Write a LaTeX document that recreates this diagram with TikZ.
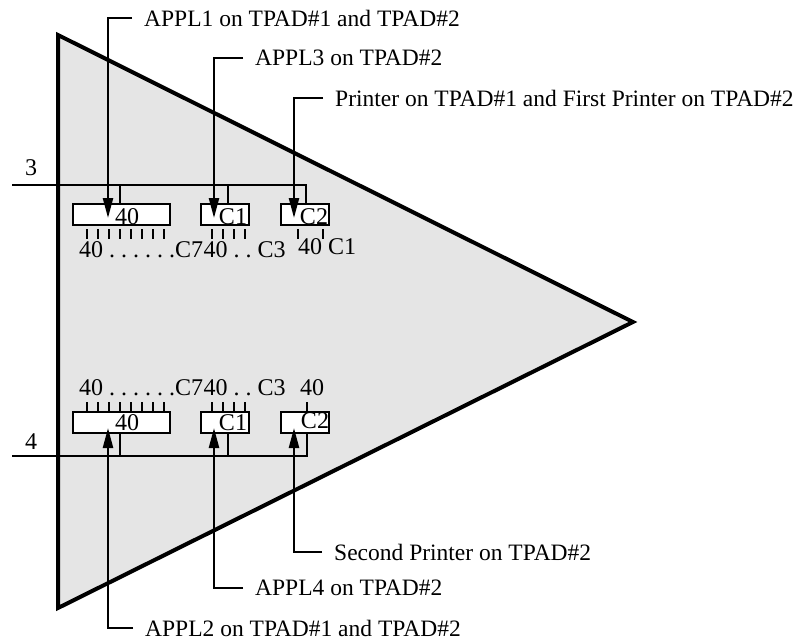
\documentclass[tikz,border=0pt]{standalone}
\usepackage{fontspec}
\setmainfont{Liberation Serif}
\usetikzlibrary{arrows.meta,positioning}
\frenchspacing

\begin{document}
\begin{tikzpicture}[x=1pt,y=-1pt,>={Triangle[length=20pt,width=10pt]},
  node distance=31pt,
  font=\fontsize{24}{28}\selectfont,
  wire/.style={line width=2.4pt},
  slot/.style={draw,line width=2.4pt,fill=white,minimum height=21pt,
    inner sep=0pt,outer sep=0pt},
  tag/.style={anchor=west,inner xsep=12pt,inner ysep=0pt,
    font=\fontsize{23.5}{28}\selectfont},
  digits/.style={inner sep=0pt}]
\useasboundingbox (0,0) rectangle (804,642);
\draw[line width=4pt,fill=black!10] (58,35) -- (633,322) -- (58,608) -- cycle;

% line 3
\coordinate (bus3) at (12,185);
\node at (31,168) (lbl3) {3};
\node[slot,minimum width=97pt] at (121.5,214.5) (p3a) {};
\node[slot,minimum width=48pt,right=of p3a] (p3b) {};
\node[slot,minimum width=48pt,right=32pt of p3b] (p3c) {};
\node[digits] at ([xshift=5.5pt,yshift=-2pt]p3a.center) (n3a) {40};
\node[digits] at ([xshift=8pt,yshift=-2pt]p3b.center) (n3b) {C1};
\node[digits] at ([xshift=9pt,yshift=-2pt]p3c.center) (n3c) {C2};
\draw[wire] (bus3) -| ([xshift=1pt]p3c.north);
\draw[wire] ([xshift=-1.5pt]p3a.north) -- ([xshift=-1.5pt]p3a.north |- bus3);
\draw[wire] ([xshift=3pt]p3b.north) -- ([xshift=3pt]p3b.north |- bus3);
\foreach \x in {87,98,...,164} \draw[wire] (\x,229) -- (\x,239);
\foreach \x in {212,223,...,245} \draw[wire] (\x,229) -- (\x,239);
\foreach \x in {298,323} \draw[wire] (\x,229) -- (\x,239);
\node[digits,anchor=west] at (79,250) (r3a) {40 . . . . . .C7};
\node[digits,right=0pt of r3a] (r3b) {40 . . C3};
\node[digits,anchor=west] at (298,247) (r3c) {40 C1};

% line 4
\coordinate (bus4) at (12,456);
\node at (31,442) (lbl4) {4};
\node[slot,minimum width=97pt,below=187pt of p3a] (p4a) {};
\node[slot,minimum width=48pt,right=of p4a] (p4b) {};
\node[slot,minimum width=48pt,right=32pt of p4b] (p4c) {};
\node[digits] at ([xshift=5.5pt]p4a.center) (n4a) {40};
\node[digits] at ([xshift=10pt,yshift=2pt]p4c.center) (n4c) {C2};
\node[digits] at ([xshift=8pt]p4b.center) (n4b) {C1};
\draw[wire] (bus4) -| ([xshift=2pt]p4c.south);
\draw[wire] ([xshift=-1.5pt]p4a.south) -- ([xshift=-1.5pt]p4a.south |- bus4);
\draw[wire] ([xshift=3pt]p4b.south) -- ([xshift=3pt]p4b.south |- bus4);
\foreach \x in {87,98,...,164} \draw[wire] (\x,402) -- (\x,412);
\foreach \x in {212,223,...,245} \draw[wire] (\x,402) -- (\x,412);
\draw[wire] (307,402) -- (307,412);
\node[digits,anchor=west] at (79,388) (r4a) {40 . . . . . .C7};
\node[digits,right=0pt of r4a] (r4b) {40 . . C3};
\node[digits] at (312,388) (r4c) {40};

% applications
\coordinate (tip1) at (108,218);
\coordinate (tip3) at (214,218);
\coordinate (tipp1) at (294,218);
\coordinate (tip2) at (108,428);
\coordinate (tip4) at (214,428);
\coordinate (tipp2) at (294,428);
\node[tag] at (132,18) (appl1) {APPL1 on TPAD\#1 and TPAD\#2};
\node[tag] at (243,58) (appl3) {APPL3 on TPAD\#2};
\node[tag] at (323,98) (prt1) {Printer on TPAD\#1 and First Printer on TPAD\#2};
\node[tag] at (322,552) (prt2) {Second Printer on TPAD\#2};
\node[tag] at (243,588) (appl4) {APPL4 on TPAD\#2};
\node[tag] at (133,628) (appl2) {APPL2 on TPAD\#1 and TPAD\#2};
\draw[wire,->] (appl1.west) -| (tip1);
\draw[wire,->] (appl3.west) -| (tip3);
\draw[wire,->] (prt1.west) -| (tipp1);
\draw[wire,->] (prt2.west) -| (tipp2);
\draw[wire,->] (appl4.west) -| (tip4);
\draw[wire,->] (appl2.west) -| (tip2);
\end{tikzpicture}
\end{document}
